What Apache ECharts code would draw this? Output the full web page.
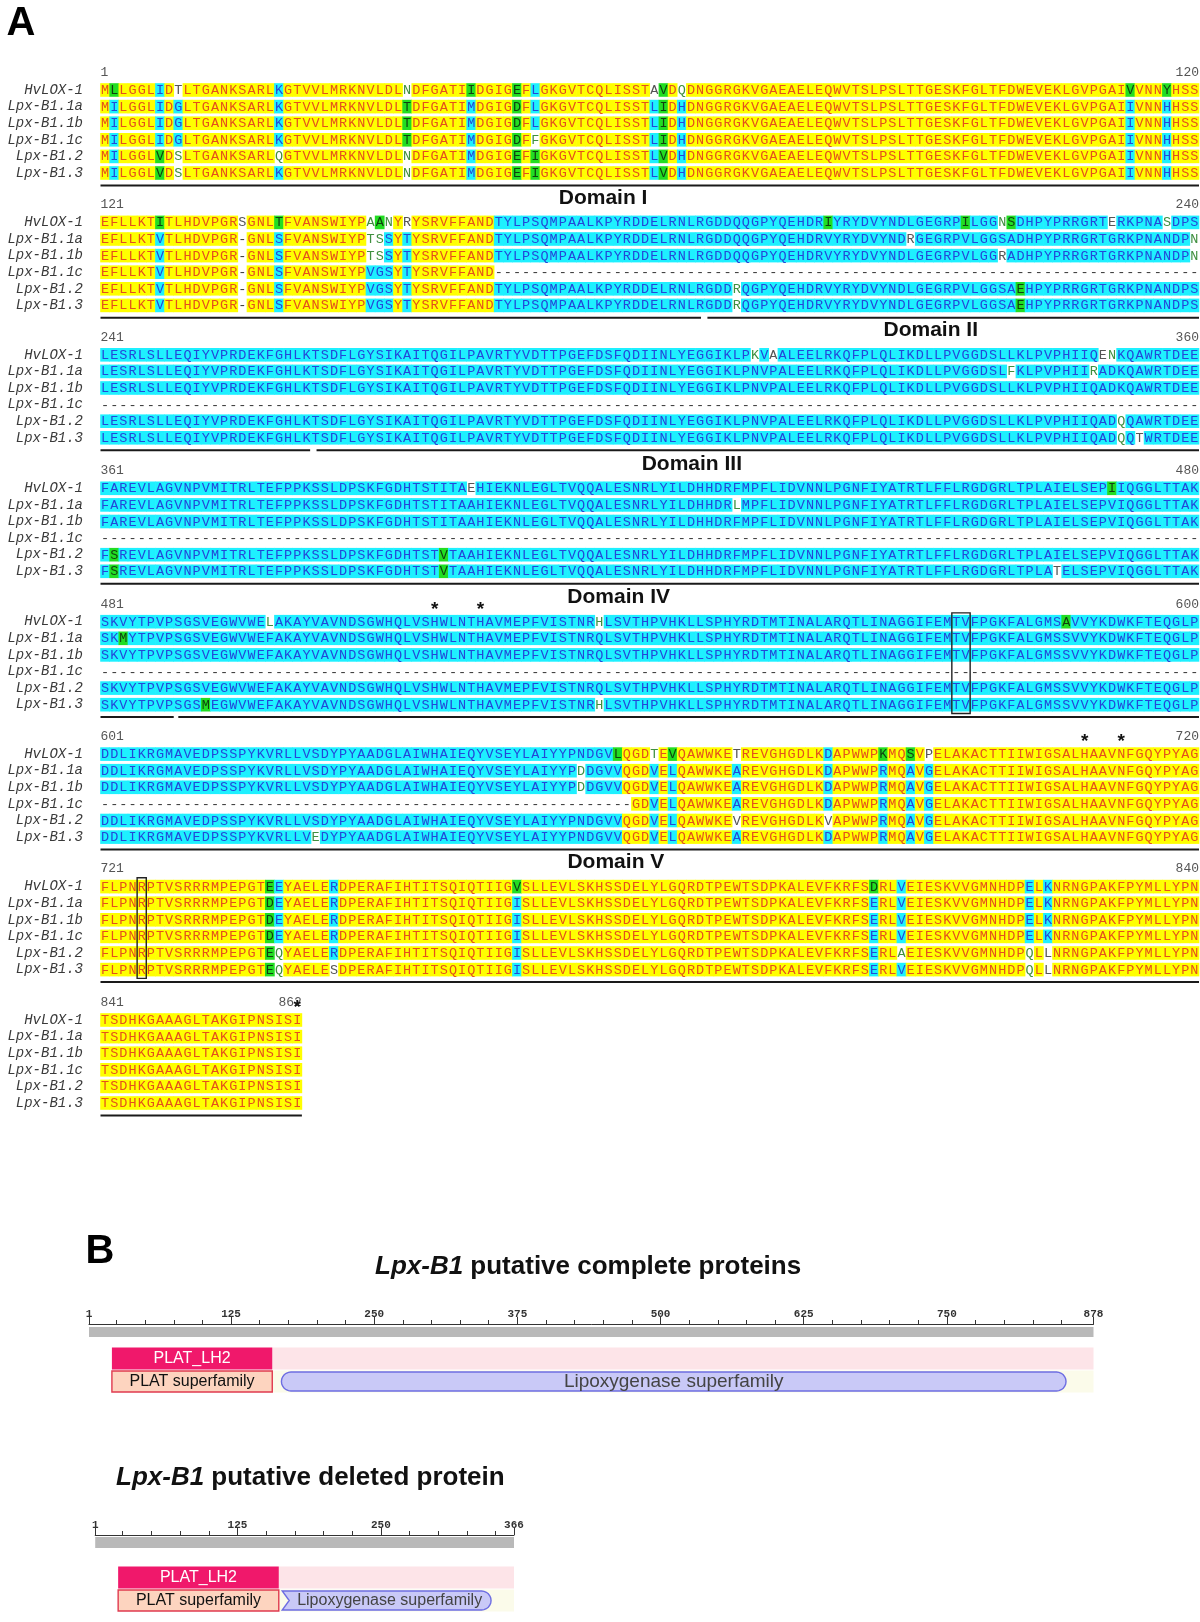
<!DOCTYPE html>
<html>
<head>
<meta charset="utf-8">
<script src="https://cdn.jsdelivr.net/npm/echarts/dist/echarts.min.js"></script>
<style>html,body{margin:0;padding:0;background:#fff}#c{width:1200px;height:1622px}</style>
</head>
<body>
<div id="c"></div>
<script>
// ---------------- DATA ----------------
const seqNames = ['HvLOX-1','Lpx-B1.1a','Lpx-B1.1b','Lpx-B1.1c','Lpx-B1.2','Lpx-B1.3'];
const blockStart = [1,121,241,361,481,601,721,841];
const blockEnd = [120,240,360,480,600,720,840,862];
function gap(n){ return '-'.repeat(n); }

const seqBlock1 = [
 'MLLGGLIDTLTGANKSARLKGTVVLMRKNVLDLNDFGATIIDGIGEFLGKGVTCQLISSTAVDQDNGGRGKVGAEAELEQWVTSLPSLTTGESKFGLTFDWEVEKLGVPGAIVVNNYHSS',
 'MILGGLIDGLTGANKSARLKGTVVLMRKNVLDLTDFGATIMDGIGDFLGKGVTCQLISSTLIDHDNGGRGKVGAEAELEQWVTSLPSLTTGESKFGLTFDWEVEKLGVPGAIIVNNHHSS',
 'MILGGLIDGLTGANKSARLKGTVVLMRKNVLDLTDFGATIMDGIGDFLGKGVTCQLISSTLIDHDNGGRGKVGAEAELEQWVTSLPSLTTGESKFGLTFDWEVEKLGVPGAIIVNNHHSS',
 'MILGGLIDGLTGANKSARLKGTVVLMRKNVLDLTDFGATIMDGIGDFFGKGVTCQLISSTLIDHDNGGRGKVGAEAELEQWVTSLPSLTTGESKFGLTFDWEVEKLGVPGAIIVNNHHSS',
 'MILGGLVDSLTGANKSARLQGTVVLMRKNVLDLNDFGATIMDGIGEFIGKGVTCQLISSTLVDHDNGGRGKVGAEAELEQWVTSLPSLTTGESKFGLTFDWEVEKLGVPGAIIVNNHHSS',
 'MILGGLVDSLTGANKSARLKGTVVLMRKNVLDLNDFGATIMDGIGEFIGKGVTCQLISSTLVDHDNGGRGKVGAEAELEQWVTSLPSLTTGESKFGLTFDWEVEKLGVPGAIIVNNHHSS'
];
const seqBlock2 = [
 'EFLLKTITLHDVPGRSGNLTFVANSWIYPAANYRYSRVFFANDTYLPSQMPAALKPYRDDELRNLRGDDQQGPYQEHDRIYRYDVYNDLGEGRPILGGNSDHPYPRRGRTERKPNASDPS',
 'EFLLKTVTLHDVPGR-GNLSFVANSWIYPTSSYTYSRVFFANDTYLPSQMPAALKPYRDDELRNLRGDDQQGPYQEHDRVYRYDVYNDRGEGRPVLGGSADHPYPRRGRTGRKPNANDPN',
 'EFLLKTVTLHDVPGR-GNLSFVANSWIYPTSSYTYSRVFFANDTYLPSQMPAALKPYRDDELRNLRGDDQQGPYQEHDRVYRYDVYNDLGEGRPVLGGRADHPYPRRGRTGRKPNANDPN',
 'EFLLKTVTLHDVPGR-GNLSFVANSWIYPVGSYTYSRVFFAND' + gap(77),
 'EFLLKTVTLHDVPGR-GNLSFVANSWIYPVGSYTYSRVFFANDTYLPSQMPAALKPYRDDELRNLRGDDRQGPYQEHDRVYRYDVYNDLGEGRPVLGGSAEHPYPRRGRTGRKPNANDPS',
 'EFLLKTVTLHDVPGR-GNLSFVANSWIYPVGSYTYSRVFFANDTYLPSQMPAALKPYRDDELRNLRGDDRQGPYQEHDRVYRYDVYNDLGEGRPVLGGSAEHPYPRRGRTGRKPNANDPS'
];
const seqBlock3 = [
 'LESRLSLLEQIYVPRDEKFGHLKTSDFLGYSIKAITQGILPAVRTYVDTTPGEFDSFQDIINLYEGGIKLPKVAALEELRKQFPLQLIKDLLPVGGDSLLKLPVPHIIQENKQAWRTDEE',
 'LESRLSLLEQIYVPRDEKFGHLKTSDFLGYSIKAITQGILPAVRTYVDTTPGEFDSFQDIINLYEGGIKLPNVPALEELRKQFPLQLIKDLLPVGGDSLFKLPVPHIIRADKQAWRTDEE',
 'LESRLSLLEQIYVPRDEKFGHLKTSDFLGYSIKAITQGILPAVRTYVDTTPGEFDSFQDIINLYEGGIKLPNVPALEELRKQFPLQLIKDLLPVGGDSLLKLPVPHIIQADKQAWRTDEE',
 gap(120),
 'LESRLSLLEQIYVPRDEKFGHLKTSDFLGYSIKAITQGILPAVRTYVDTTPGEFDSFQDIINLYEGGIKLPNVPALEELRKQFPLQLIKDLLPVGGDSLLKLPVPHIIQADQQAWRTDEE',
 'LESRLSLLEQIYVPRDEKFGHLKTSDFLGYSIKAITQGILPAVRTYVDTTPGEFDSFQDIINLYEGGIKLPNVPALEELRKQFPLQLIKDLLPVGGDSLLKLPVPHIIQADQQTWRTDEE'
];
const seqBlock4 = [
 'FAREVLAGVNPVMITRLTEFPPKSSLDPSKFGDHTSTITAEHIEKNLEGLTVQQALESNRLYILDHHDRFMPFLIDVNNLPGNFIYATRTLFFLRGDGRLTPLAIELSEPIIQGGLTTAK',
 'FAREVLAGVNPVMITRLTEFPPKSSLDPSKFGDHTSTITAAHIEKNLEGLTVQQALESNRLYILDHHDRLMPFLIDVNNLPGNFIYATRTLFFLRGDGRLTPLAIELSEPVIQGGLTTAK',
 'FAREVLAGVNPVMITRLTEFPPKSSLDPSKFGDHTSTITAAHIEKNLEGLTVQQALESNRLYILDHHDRFMPFLIDVNNLPGNFIYATRTLFFLRGDGRLTPLAIELSEPVIQGGLTTAK',
 gap(120),
 'FSREVLAGVNPVMITRLTEFPPKSSLDPSKFGDHTSTVTAAHIEKNLEGLTVQQALESNRLYILDHHDRFMPFLIDVNNLPGNFIYATRTLFFLRGDGRLTPLAIELSEPVIQGGLTTAK',
 'FSREVLAGVNPVMITRLTEFPPKSSLDPSKFGDHTSTVTAAHIEKNLEGLTVQQALESNRLYILDHHDRFMPFLIDVNNLPGNFIYATRTLFFLRGDGRLTPLATELSEPVIQGGLTTAK'
];
const seqBlock5 = [
 'SKVYTPVPSGSVEGWVWELAKAYVAVNDSGWHQLVSHWLNTHAVMEPFVISTNRHLSVTHPVHKLLSPHYRDTMTINALARQTLINAGGIFEMTVFPGKFALGMSAVVYKDWKFTEQGLP',
 'SKMYTPVPSGSVEGWVWEFAKAYVAVNDSGWHQLVSHWLNTHAVMEPFVISTNRQLSVTHPVHKLLSPHYRDTMTINALARQTLINAGGIFEMTVFPGKFALGMSSVVYKDWKFTEQGLP',
 'SKVYTPVPSGSVEGWVWEFAKAYVAVNDSGWHQLVSHWLNTHAVMEPFVISTNRQLSVTHPVHKLLSPHYRDTMTINALARQTLINAGGIFEMTVFPGKFALGMSSVVYKDWKFTEQGLP',
 gap(120),
 'SKVYTPVPSGSVEGWVWEFAKAYVAVNDSGWHQLVSHWLNTHAVMEPFVISTNRQLSVTHPVHKLLSPHYRDTMTINALARQTLINAGGIFEMTVFPGKFALGMSSVVYKDWKFTEQGLP',
 'SKVYTPVPSGSMEGWVWEFAKAYVAVNDSGWHQLVSHWLNTHAVMEPFVISTNRHLSVTHPVHKLLSPHYRDTMTINALARQTLINAGGIFEMTVFPGKFALGMSSVVYKDWKFTEQGLP'
];
const seqBlock6 = [
 'DDLIKRGMAVEDPSSPYKVRLLVSDYPYAADGLAIWHAIEQYVSEYLAIYYPNDGVLQGDTEVQAWWKETREVGHGDLKDAPWWPKMQSVPELAKACTTIIWIGSALHAAVNFGQYPYAG',
 'DDLIKRGMAVEDPSSPYKVRLLVSDYPYAADGLAIWHAIEQYVSEYLAIYYPDDGVVQGDVELQAWWKEAREVGHGDLKDAPWWPRMQAVGELAKACTTIIWIGSALHAAVNFGQYPYAG',
 'DDLIKRGMAVEDPSSPYKVRLLVSDYPYAADGLAIWHAIEQYVSEYLAIYYPDDGVVQGDVELQAWWKEAREVGHGDLKDAPWWPRMQAVGELAKACTTIIWIGSALHAAVNFGQYPYAG',
 gap(58) + 'GDVELQAWWKEAREVGHGDLKDAPWWPRMQAVGELAKACTTIIWIGSALHAAVNFGQYPYAG',
 'DDLIKRGMAVEDPSSPYKVRLLVSDYPYAADGLAIWHAIEQYVSEYLAIYYPNDGVVQGDVELQAWWKEVREVGHGDLKVAPWWPRMQAVGELAKACTTIIWIGSALHAAVNFGQYPYAG',
 'DDLIKRGMAVEDPSSPYKVRLLVEDYPYAADGLAIWHAIEQYVSEYLAIYYPNDGVVQGDVELQAWWKEAREVGHGDLKDAPWWPRMQAVGELAKACTTIIWIGSALHAAVNFGQYPYAG'
];
const seqBlock7 = [
 'FLPNRPTVSRRRMPEPGTEEYAELERDPERAFIHTITSQIQTIIGVSLLEVLSKHSSDELYLGQRDTPEWTSDPKALEVFKRFSDRLVEIESKVVGMNHDPELKNRNGPAKFPYMLLYPN',
 'FLPNRPTVSRRRMPEPGTDEYAELERDPERAFIHTITSQIQTIIGISLLEVLSKHSSDELYLGQRDTPEWTSDPKALEVFKRFSERLVEIESKVVGMNHDPELKNRNGPAKFPYMLLYPN',
 'FLPNRPTVSRRRMPEPGTDEYAELERDPERAFIHTITSQIQTIIGISLLEVLSKHSSDELYLGQRDTPEWTSDPKALEVFKRFSERLVEIESKVVGMNHDPELKNRNGPAKFPYMLLYPN',
 'FLPNRPTVSRRRMPEPGTDEYAELERDPERAFIHTITSQIQTIIGISLLEVLSKHSSDELYLGQRDTPEWTSDPKALEVFKRFSERLVEIESKVVGMNHDPELKNRNGPAKFPYMLLYPN',
 'FLPNRPTVSRRRMPEPGTEQYAELERDPERAFIHTITSQIQTIIGISLLEVLSKHSSDELYLGQRDTPEWTSDPKALEVFKRFSERLAEIESKVVGMNHDPQLLNRNGPAKFPYMLLYPN',
 'FLPNRPTVSRRRMPEPGTEQYAELESDPERAFIHTITSQIQTIIGISLLEVLSKHSSDELYLGQRDTPEWTSDPKALEVFKRFSERLVEIESKVVGMNHDPQLLNRNGPAKFPYMLLYPN'
];
const seqBlock8 = [
 'TSDHKGAAAGLTAKGIPNSISI','TSDHKGAAAGLTAKGIPNSISI','TSDHKGAAAGLTAKGIPNSISI',
 'TSDHKGAAAGLTAKGIPNSISI','TSDHKGAAAGLTAKGIPNSISI','TSDHKGAAAGLTAKGIPNSISI'
];

// shading class per column (Y identical, C conserved, G similar) and per-sequence exceptions
const baseShade = [
 'Y0-119',
 'Y0-42 C43-119',
 'C0-119',
 'C0-119',
 'C0-119',
 'C0-56 Y57-59 C60 Y61 C62 Y63-68 C69 Y70-78 C79 Y80-84 C85 Y86-87 C88 Y89 C90 Y91-119',
 'Y0-17 G18 C19 Y20-24 C25 Y26-44 C45 Y46-83 C84 Y85-86 C87 Y88-100 C101 Y102 C103 Y104-119',
 'Y0-21'
];
const shadeExceptions = [
 ['G1 C6 K8 C19 W33 G40 G45 C47 K60 G61 W63 G112 G116',
  'C1 C6 C8 C19 G33 C40 G45 C47 C60 G61 C63 C112 C116',
  'C1 C6 C8 C19 G33 C40 G45 C47 C60 G61 C63 C112 C116',
  'C1 C6 C8 C19 G33 C40 G45 W47 C60 G61 C63 C112 C116',
  'C1 G6 W8 W19 W33 C40 G45 G47 C60 G61 C63 C112 C116',
  'C1 G6 W8 C19 W33 C40 G45 G47 C60 G61 C63 C112 C116'],
 ['G6 K15 G19 W29 G30 W31 K33 G79 G94 W98 G99 K110 W116',
  'C6 C19 W29 W30 C31 C33 K88 W119',
  'C6 C19 W29 W30 C31 C33 K98 W119',
  'C6 C19 C29 C30 C31 C33',
  'C6 C19 C29 C30 C31 C33 W69 G100',
  'C6 C19 C29 C30 C31 C33 W69 G100'],
 ['W71 K73 K109 W110','W99 W108','','','W111','W111 K113'],
 ['K40 G110','W69','','','G1 G37','G1 G37 K104'],
 ['W18 W54 G105','G2','','','','G11 W54'],
 ['G56 W60 G62 K69 G85 G88 K90','W52','W52','','K69 K79','W23'],
 ['G45 G84','','','','W19 W87 W101 K103','W19 K25 W101 K103'],
 ['','','','','','']
];

// annotations
const underlineSegs = [[[0,120]],[[0,65.6],[66.3,120]],[[0,22.9],[23.6,120]],[[0,120]],[[0,8.0],[8.5,120]],[[0,120]],[[0,120]],[[0,22]]];
const starCols = [[],[],[],[],[36,41],[107,111],[],[21]];
const boxCols = [[],[],[],[],[[93,95]],[],[[4,5]],[]];
const domainLabel = ['', 'Domain I', 'Domain II', 'Domain III', 'Domain IV', '', 'Domain V', ''];
const domainLabelCol = [0, 54.9, 90.7, 64.6, 56.6, 0, 56.3, 0];

// panel B
const domNames = ['PLAT_LH2','PLAT superfamily','Lipoxygenase superfamily'];
const domRow = [0,1,1];
const completeLength = 878;
const completeStart = [21,21,169];
const completeEnd = [161,161,854];
const deletedLength = 366;
const deletedStart = [21,21,164];
const deletedEnd = [161,161,346];
const rulerMajor1 = [1,125,250,375,500,625,750,878];
const rulerMinor1 = [25,50,75,100,150,175,200,225,275,300,325,350,400,425,450,475,525,550,575,600,650,675,700,725,775,800,825,850];
const rulerMajor2 = [1,125,250,366];
const rulerMinor2 = [25,50,75,100,150,175,200,225,275,300,325,350];

// ---------------- STYLE / LAYOUT ----------------
const blocks = [seqBlock1,seqBlock2,seqBlock3,seqBlock4,seqBlock5,seqBlock6,seqBlock7,seqBlock8];
const SHADE = {
  Y:{bg:'#ffff00', fg:'#e4501c'},
  C:{bg:'#1ef0ff', fg:'#2447d8'},
  G:{bg:'#22dd22', fg:'#0f3f0f'},
  W:{bg:null, fg:'#3f8f3f'},
  K:{bg:null, fg:'#555555'},
  D:{bg:null, fg:'#333333'}
};
const FONT_RES = '13.5px "Liberation Mono"';
const ROWH = 16.6, BAND = 13.6;
const firstRowY = [90.0, 222.4, 354.8, 488.3, 621.7, 754.1, 886.6, 1020.0];

function parseRuns(str){
  const arr=[];
  str.split(' ').forEach(tok=>{
    const c=tok[0]; const parts=tok.slice(1).split('-').map(Number);
    const a=parts[0], b=parts.length>1?parts[1]:parts[0];
    for(let i=a;i<=b;i++) arr[i]=c;
  });
  return arr;
}
function parseOver(str){
  const m={}; if(!str) return m;
  str.split(' ').forEach(tok=>{ m[+tok.slice(1)] = tok[0]; });
  return m;
}

const option = {animation:false, backgroundColor:'#ffffff', grid:[], xAxis:[], yAxis:[], series:[], graphic:[]};

for(let b=0;b<8;b++){
  option.grid.push({left:100.5, top:firstRowY[b]-ROWH/2, width:1098.5, height:ROWH*6});
  option.xAxis.push({gridIndex:b, type:'value', min:0, max:120, show:false});
  option.yAxis.push({gridIndex:b, type:'category', data:seqNames, inverse:true,
    axisLine:{show:false}, axisTick:{show:false}, splitLine:{show:false},
    axisLabel:{interval:0, margin:17.5, fontFamily:'Liberation Mono', fontStyle:'italic', fontSize:14, color:'#3a3a3a'}});

  const base = parseRuns(baseShade[b]);
  const cells = [];
  blocks[b].forEach((seq,s)=>{
    const ov = parseOver(shadeExceptions[b][s]);
    for(let i=0;i<seq.length;i++){
      const ch = seq[i];
      cells.push({i, s, ch, cls: ch==='-' ? 'D' : (ov[i] || base[i])});
    }
  });
  option.series.push({
    type:'custom', xAxisIndex:b, yAxisIndex:b, silent:true, progressive:0,
    data: cells.map(c=>[c.i, c.s]),
    renderItem:(params, api)=>{
      const c = cells[params.dataIndex];
      const p = api.coord([c.i+0.5, c.s]);
      const w = api.size([1,0])[0];
      const st = SHADE[c.cls];
      const ch = [];
      if(st.bg) ch.push({type:'rect', shape:{x:p[0]-w/2-0.3, y:p[1]-BAND/2, width:w+0.6, height:BAND}, style:{fill:st.bg}});
      ch.push({type:'text', style:{text:c.ch, x:p[0], y:p[1]+0.5, align:'center', verticalAlign:'middle', font:FONT_RES, fill:st.fg}});
      return {type:'group', children:ch};
    }
  });

  // annotations
  const len = blocks[b][0].length;
  const ann = [];
  ann.push({t:'num', x:0, text:String(blockStart[b]), align:'left'});
  ann.push({t:'num', x:len, text:String(blockEnd[b]), align:'right'});
  underlineSegs[b].forEach(sg=>ann.push({t:'line', x:sg[0], x1:sg[1]}));
  starCols[b].forEach(c=>ann.push({t:'star', x:c+0.5}));
  boxCols[b].forEach(bx=>ann.push({t:'box', x:bx[0], x1:bx[1]}));
  if(domainLabel[b]) ann.push({t:'dom', x:domainLabelCol[b], text:domainLabel[b]});
  option.series.push({
    type:'custom', xAxisIndex:b, yAxisIndex:b, silent:true, clip:false, z:5,
    data: ann.map(a=>[a.x, 0]),
    renderItem:(params, api)=>{
      const a = ann[params.dataIndex];
      const p = api.coord([a.x, 0]);
      const yLast = api.coord([a.x, 5])[1];
      if(a.t==='num') return {type:'text', style:{text:a.text, x:p[0], y:p[1]-17.6, align:a.align, verticalAlign:'middle', font:'13px "Liberation Mono"', fill:'#555'}};
      if(a.t==='line'){ const q = api.coord([a.x1, 0]); return {type:'line', shape:{x1:p[0], y1:yLast+12.4, x2:q[0], y2:yLast+12.4}, style:{stroke:'#1a1a1a', lineWidth:2}}; }
      if(a.t==='star') return {type:'text', style:{text:'*', x:p[0], y:p[1]-12, align:'center', verticalAlign:'middle', font:'bold 19px "Liberation Sans"', fill:'#111'}};
      if(a.t==='box'){ const q = api.coord([a.x1, 0]); return {type:'rect', shape:{x:p[0], y:p[1]-8.8, width:q[0]-p[0], height:yLast-p[1]+17.6}, style:{fill:null, stroke:'#222', lineWidth:1.4}}; }
      if(a.t==='dom') return {type:'text', style:{text:a.text, x:p[0], y:p[1]-24.5, align:'center', verticalAlign:'middle', font:'bold 21px "Liberation Sans"', fill:'#111'}};
      return null;
    }
  });
}

// ---------------- PANEL B ----------------
function pillPoints(x0,x1,yc,h,leftChevron){
  const r=h/2, pts=[];
  for(let k=0;k<=12;k++){ const a=-Math.PI/2+Math.PI*k/12; pts.push([x1-r+r*Math.cos(a), yc+r*Math.sin(a)]); }
  if(leftChevron){ pts.push([x0, yc+r]); pts.push([x0+7, yc]); pts.push([x0, yc-r]); }
  else { for(let k=0;k<=12;k++){ const a=Math.PI/2+Math.PI*k/12; pts.push([x0+r+r*Math.cos(a), yc+r*Math.sin(a)]); } }
  return pts;
}

function addDiagram(gi, left, width, top, len, starts, ends, major, minor, axisOff, grayTop, grayBot, lipoxFont, chevron){
  option.grid.push({left, top, width, height:46});
  const xa = option.xAxis.length;
  option.xAxis.push({gridIndex:gi, type:'value', min:1, max:len, position:'top', offset:axisOff,
    axisLine:{show:true, lineStyle:{color:'#333', width:1}},
    axisTick:{show:true, customValues:major, length:7, lineStyle:{color:'#333'}},
    axisLabel:{show:true, customValues:major, margin:4, fontFamily:'Liberation Mono', fontWeight:'bold', fontSize:11, color:'#333'},
    splitLine:{show:false}});
  option.xAxis.push({gridIndex:gi, type:'value', min:1, max:len, position:'top', offset:axisOff,
    axisLine:{show:false}, axisTick:{show:true, customValues:minor, length:4, lineStyle:{color:'#333'}},
    axisLabel:{show:false}, splitLine:{show:false}});
  const ya = option.yAxis.length;
  option.yAxis.push({gridIndex:gi, type:'category', data:['a','b'], inverse:true, show:false});
  const items = [];
  items.push({t:'gray', s:1, e:len, row:0});
  items.push({t:'pink', s:ends[0], e:len, row:0});
  items.push({t:'cream', s:ends[1], e:len, row:1});
  domNames.forEach((n,k)=>items.push({t:'dom', k, s:starts[k], e:ends[k], row:domRow[k]}));
  option.series.push({
    type:'custom', xAxisIndex:xa, yAxisIndex:ya, silent:true, clip:false,
    data: items.map(it=>[it.s, it.row]),
    renderItem:(params, api)=>{
      const it = items[params.dataIndex];
      const p0 = api.coord([it.s, it.row]);
      const p1 = api.coord([it.e, it.row]);
      const bh = api.size([0,1])[1];
      const gridTop = api.coord([it.s, 0])[1] - bh/2;
      if(it.t==='gray') return {type:'rect', shape:{x:p0[0], y:gridTop-grayTop, width:p1[0]-p0[0], height:grayTop-grayBot}, style:{fill:'#b9b9b9'}};
      if(it.t==='pink') return {type:'rect', shape:{x:p0[0], y:p0[1]-bh/2+0.5, width:p1[0]-p0[0], height:bh-1}, style:{fill:'#fde4e8'}};
      if(it.t==='cream') return {type:'rect', shape:{x:p0[0], y:p0[1]-bh/2+0.5, width:p1[0]-p0[0], height:bh-1}, style:{fill:'#fbfbea'}};
      const name = domNames[it.k];
      if(it.k===0) return {type:'group', children:[
        {type:'rect', shape:{x:p0[0], y:p0[1]-bh/2+0.5, width:p1[0]-p0[0], height:bh-1}, style:{fill:'#f0186b'}},
        {type:'text', style:{text:name, x:(p0[0]+p1[0])/2, y:p0[1]+0.5, align:'center', verticalAlign:'middle', font:'16px "Liberation Sans"', fill:'#fff'}}]};
      if(it.k===1) return {type:'group', children:[
        {type:'rect', shape:{x:p0[0], y:p0[1]-bh/2+1, width:p1[0]-p0[0], height:bh-2}, style:{fill:'#fdd4bf', stroke:'#e03a4f', lineWidth:1.4}},
        {type:'text', style:{text:name, x:(p0[0]+p1[0])/2, y:p0[1]+0.5, align:'center', verticalAlign:'middle', font:'16px "Liberation Sans"', fill:'#111'}}]};
      return {type:'group', children:[
        {type:'polygon', shape:{points:pillPoints(p0[0], p1[0], p0[1], bh-4, chevron)}, style:{fill:'#c9c9f7', stroke:'#6d6de2', lineWidth:1.4}},
        {type:'text', style:{text:name, x:(p0[0]+p1[0])/2 + (chevron?3:0), y:p0[1]+0.5, align:'center', verticalAlign:'middle', font:lipoxFont+'px "Liberation Sans"', fill:'#444'}}]};
    }
  });
}
addDiagram(8, 89, 1004.5, 1347, completeLength, completeStart, completeEnd, rulerMajor1, rulerMinor1, 23, 20, 10, 19, false);
addDiagram(9, 95.2, 418.8, 1566, deletedLength, deletedStart, deletedEnd, rulerMajor2, rulerMinor2, 31, 29, 18, 16, true);

option.graphic = [
  {type:'text', x:21, y:24, style:{text:'A', font:'bold 40px "Liberation Sans"', fill:'#000', align:'center', verticalAlign:'middle'}},
  {type:'text', x:100, y:1252, style:{text:'B', font:'bold 40px "Liberation Sans"', fill:'#000', align:'center', verticalAlign:'middle'}},
  {type:'text', x:375, y:1267, style:{text:'{i|Lpx-B1} putative complete proteins', font:'bold 26px "Liberation Sans"', fill:'#111', align:'left', verticalAlign:'middle',
     rich:{i:{fontStyle:'italic', fontWeight:'bold', fontSize:26, fontFamily:'Liberation Sans', fill:'#111'}}}},
  {type:'text', x:116, y:1478, style:{text:'{i|Lpx-B1} putative deleted protein', font:'bold 26px "Liberation Sans"', fill:'#111', align:'left', verticalAlign:'middle',
     rich:{i:{fontStyle:'italic', fontWeight:'bold', fontSize:26, fontFamily:'Liberation Sans', fill:'#111'}}}}
];

const chart = echarts.init(document.getElementById('c'), null, {renderer:'canvas'});
chart.setOption(option);
</script>
</body>
</html>
